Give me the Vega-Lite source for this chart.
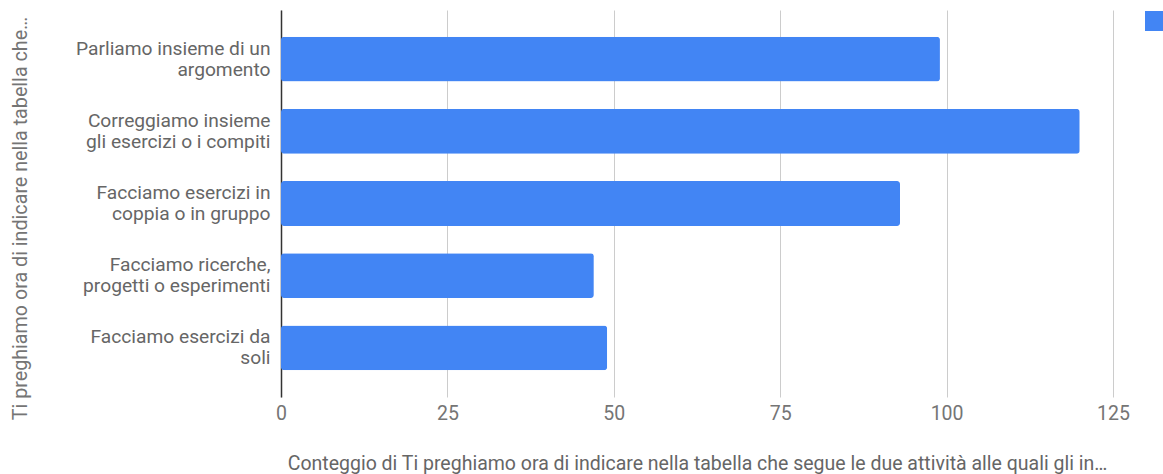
{
  "$schema": "https://vega.github.io/schema/vega-lite/v6.json",
  "width": 832,
  "height": 387,
  "autosize": {"type": "none"},
  "padding": {"left": 281, "top": 10, "right": 50, "bottom": 77},
  "background": "white",
  "config": {
    "view": {"stroke": null},
    "font": "Roboto"
  },
  "data": {
    "values": [
      {"attivita": "Parliamo insieme di un\nargomento", "conteggio": 99, "serie": "Conteggio"},
      {"attivita": "Correggiamo insieme\ngli esercizi o i compiti", "conteggio": 120, "serie": "Conteggio"},
      {"attivita": "Facciamo esercizi in\ncoppia o in gruppo", "conteggio": 93, "serie": "Conteggio"},
      {"attivita": "Facciamo ricerche,\nprogetti o esperimenti", "conteggio": 47, "serie": "Conteggio"},
      {"attivita": "Facciamo esercizi da\nsoli", "conteggio": 49, "serie": "Conteggio"}
    ]
  },
  "mark": {"type": "bar", "cornerRadius": 3},
  "encoding": {
    "y": {
      "field": "attivita",
      "type": "nominal",
      "sort": null,
      "scale": {"paddingInner": 0.38, "paddingOuter": 0.37},
      "axis": {
        "title": "Ti preghiamo ora di indicare nella tabella che…",
        "titleFont": "Roboto",
        "titleFontSize": 19.7,
        "titleFontWeight": "normal",
        "titleColor": "#757575",
        "titleX": -261,
        "titleY": 208,
        "titleAngle": -90,
        "titleAlign": "center",
        "titleBaseline": "middle",
        "labelExpr": "split(datum.value, '\\n')",
        "labelFont": "Roboto",
        "labelFontSize": 19.2,
        "labelColor": "#666666",
        "labelLineHeight": 21,
        "labelOffset": -10.5,
        "labelPadding": 11,
        "labelLimit": 300,
        "ticks": false,
        "domain": true,
        "domainColor": "#333333",
        "domainWidth": 1.5,
        "grid": false
      }
    },
    "x": {
      "field": "conteggio",
      "type": "quantitative",
      "scale": {"domain": [0, 125], "nice": false},
      "axis": {
        "values": [0, 25, 50, 75, 100, 125],
        "title": "Conteggio di Ti preghiamo ora di indicare nella tabella che segue le due attività alle quali gli in…",
        "titleFont": "Roboto",
        "titleFontSize": 19.5,
        "titleFontWeight": "normal",
        "titleColor": "#666666",
        "titleY": 66,
        "titleBaseline": "middle",
        "labelFont": "Roboto",
        "labelFontSize": 19.5,
        "labelColor": "#757575",
        "labelPadding": 7,
        "labelFlush": false,
        "ticks": false,
        "domain": false,
        "grid": true,
        "gridColor": "#cccccc",
        "gridWidth": 1
      }
    },
    "color": {
      "field": "serie",
      "type": "nominal",
      "scale": {"range": ["#4285F4"]},
      "legend": {
        "title": null,
        "orient": "none",
        "legendX": 864,
        "legendY": 1,
        "symbolType": "square",
        "symbolSize": 400,
        "symbolStrokeWidth": 0,
        "labelOffset": 14,
        "labelFontSize": 19.5,
        "labelColor": "#666666"
      }
    }
  }
}
